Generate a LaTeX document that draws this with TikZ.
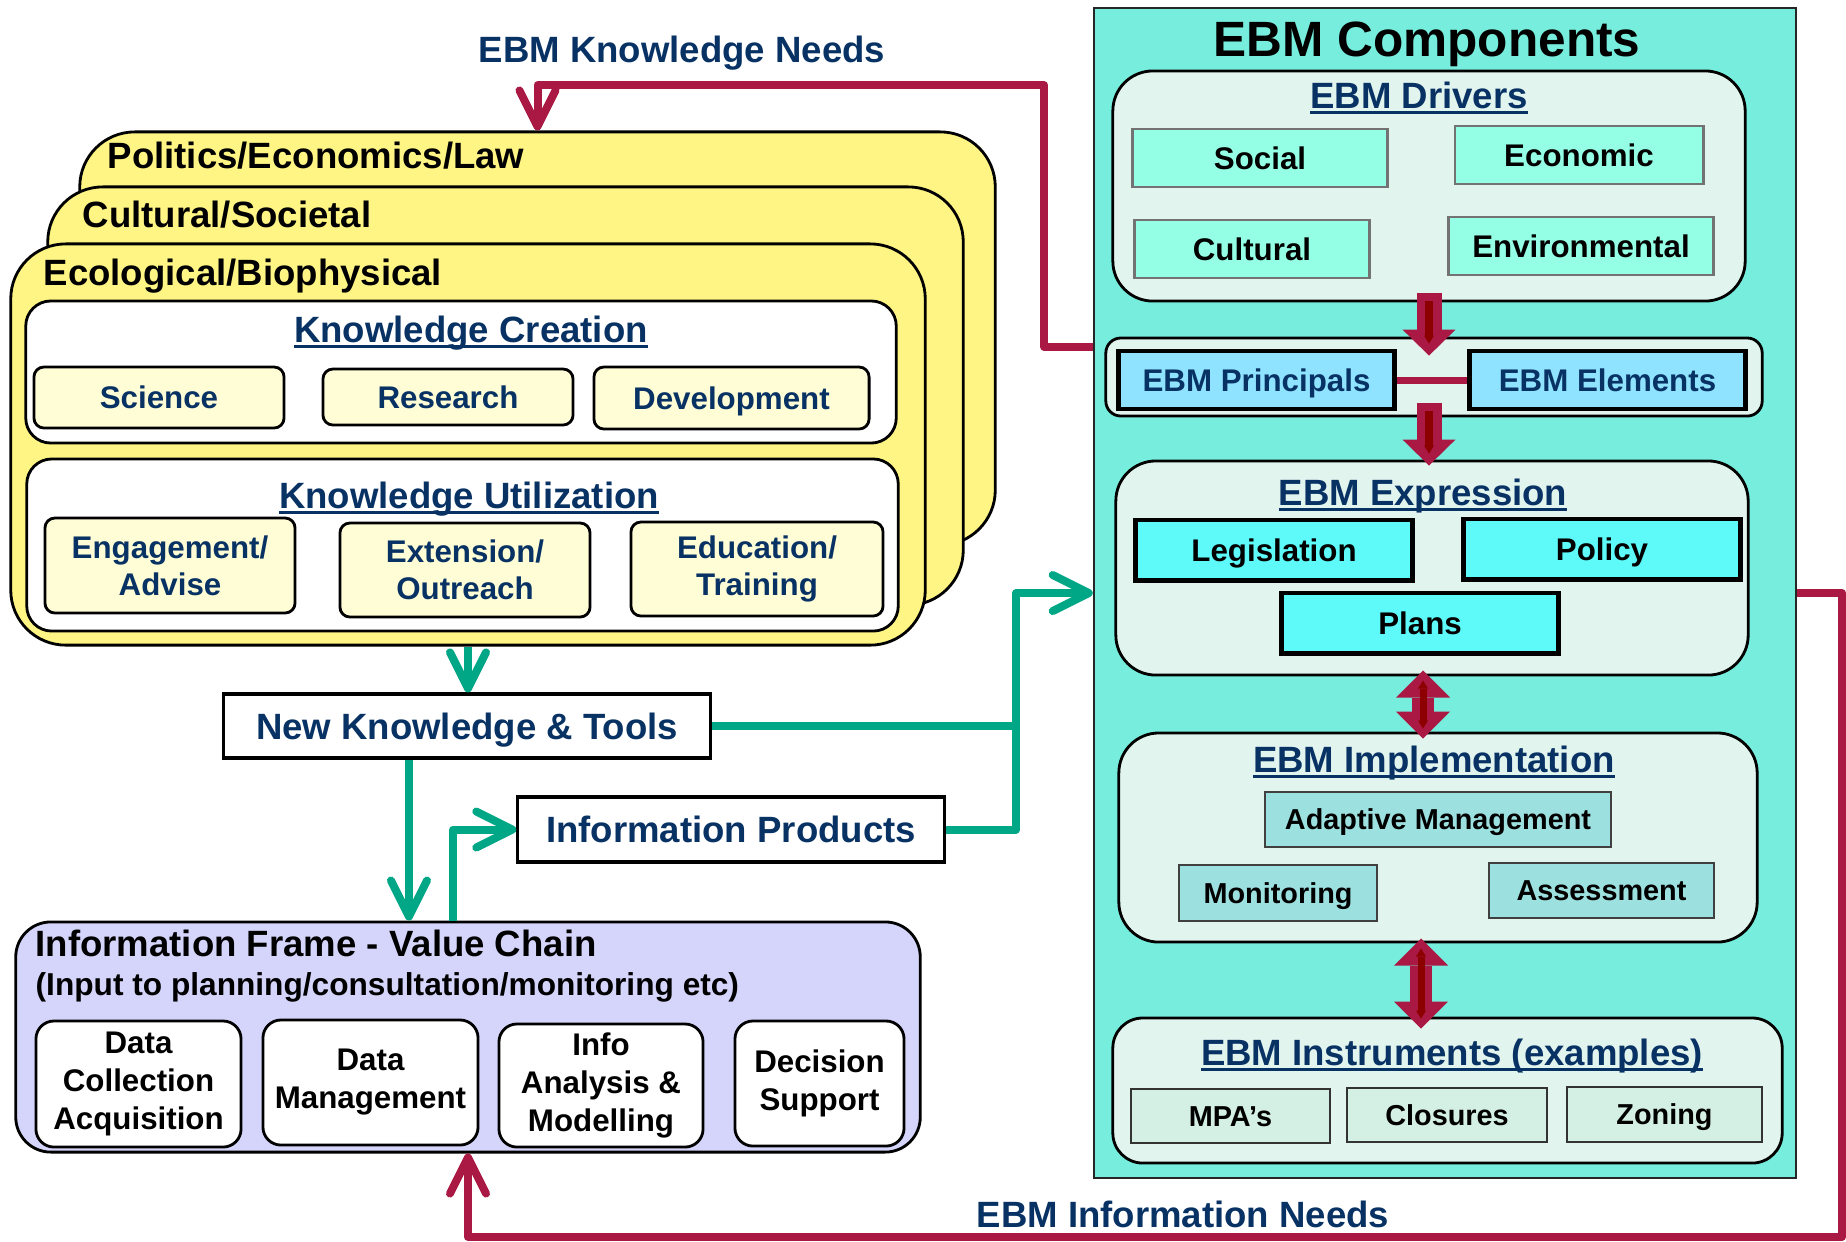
\documentclass[tikz,border=0pt]{standalone}
\usepackage{fontspec}
\setmainfont{Liberation Sans}
\usepackage{tikz}
\usetikzlibrary{arrows.meta,positioning}
\usepackage{xcolor}

\definecolor{ebmteal}{RGB}{119,237,221}
\definecolor{panelfill}{RGB}{226,244,238}
\definecolor{drvfill}{RGB}{148,255,229}
\definecolor{prinfill}{RGB}{143,227,255}
\definecolor{exprfill}{RGB}{94,250,250}
\definecolor{implfill}{RGB}{157,224,224}
\definecolor{instfill}{RGB}{212,240,228}
\definecolor{cardyellow}{RGB}{255,245,133}
\definecolor{kboxfill}{RGB}{255,253,214}
\definecolor{framefill}{RGB}{213,213,251}
\definecolor{navy}{RGB}{8,50,100}
\definecolor{crim}{RGB}{170,24,68}
\definecolor{crimcore}{RGB}{140,0,0}
\definecolor{flowgreen}{RGB}{0,167,134}

\newsavebox\ulbx
\newcommand{\ulttl}[1]{\sbox\ulbx{#1}\rlap{\rule[-1.7pt]{\wd\ulbx}{0.95pt}}\usebox\ulbx}

\tikzset{
  bigtxt/.style={font=\fontsize{14.1}{16}\selectfont\bfseries},
  ttltxt/.style={font=\fontsize{10.4}{12.5}\selectfont\bfseries},
  boxtxt/.style={font=\fontsize{8.9}{10.5}\selectfont\bfseries},
  smalltxt/.style={font=\fontsize{8.2}{10}\selectfont\bfseries},
  oneline/.style={text height=6.4pt, text depth=0pt},
  ebmbox/.style={draw=black!85, line width=0.6pt, fill=ebmteal},
  panel/.style={draw, line width=0.8pt, fill=panelfill, rounded corners=0.4cm},
  drvbox/.style={boxtxt, oneline, draw=black!55, line width=0.8pt, fill=drvfill, inner sep=0pt},
  prinbox/.style={boxtxt, oneline, text=navy, draw, line width=1.4pt, fill=prinfill, inner sep=0pt},
  exprbox/.style={boxtxt, oneline, draw, line width=1.4pt, fill=exprfill, inner sep=0pt},
  implbox/.style={smalltxt, text height=5.9pt, text depth=0pt, draw=black!75, line width=0.7pt, fill=implfill, inner sep=0pt},
  instbox/.style={smalltxt, text height=5.9pt, text depth=0pt, draw=black!80, line width=0.7pt, fill=instfill, inner sep=0pt},
  card/.style={draw, line width=0.8pt, fill=cardyellow, rounded corners=0.55cm},
  cardlbl/.style={ttltxt, inner sep=0pt, anchor=base west},
  sublbl/.style={font=\fontsize{9}{11}\selectfont\bfseries, inner sep=0pt, anchor=base west},
  kpanel/.style={draw, line width=0.8pt, fill=white, rounded corners=0.25cm},
  kbox/.style={boxtxt, text=navy, draw, line width=0.8pt, fill=kboxfill, rounded corners=0.1cm, inner sep=0pt, align=center},
  ttl/.style={ttltxt, text=navy, inner sep=0pt, anchor=base},
  outbox/.style={ttltxt, text height=7.45pt, text depth=0pt, text=navy, draw, line width=0.9pt, fill=white, inner sep=0pt},
  framebox/.style={draw, line width=0.8pt, fill=framefill, rounded corners=0.35cm},
  databox/.style={font=\fontsize{8.9}{10.8}\selectfont\bfseries, draw, line width=0.8pt, fill=white, rounded corners=0.18cm, inner sep=0pt, align=center},
  needline/.style={crim, line width=0.08cm, line join=round, -{Straight Barb[length=0.36cm, width=0.36cm, round]}},
  flowline/.style={flowgreen, line width=0.08cm, line join=round, -{Straight Barb[length=0.36cm, width=0.36cm, round]}},
  blockarr/.style={crim, line width=0.25cm, -{Triangle[length=0.26cm, width=0.53cm, line width=0pt]},
    postaction={draw=crimcore, line width=0.08cm, shorten <=0.08cm, shorten >=0.12cm, -{Triangle[length=0.08cm, width=0.1cm, line width=0pt]}}},
  dblarr/.style={crim, line width=0.22cm, {Triangle[length=0.27cm, width=0.54cm, line width=0pt]}-{Triangle[length=0.27cm, width=0.54cm, line width=0pt]},
    postaction={draw=crimcore, line width=0.07cm, shorten <=0.1cm, shorten >=0.1cm, {Triangle[length=0.08cm, width=0.1cm, line width=0pt]}-{Triangle[length=0.08cm, width=0.1cm, line width=0pt]}}},
}

\begin{document}
\begin{tikzpicture}[x=0.01cm, y=-0.01cm]
\useasboundingbox (0,0) rectangle (1846,1241);

% EBM side
\node[ebmbox, minimum width=7.02cm, minimum height=11.70cm] (ebm) at (1445,593) {};
\node[bigtxt, anchor=base] (ebmttl) at (1427,56) {EBM Components};

\node[panel, minimum width=6.32cm, minimum height=2.30cm] (drivers) at (1429,186) {};
\node[ttl] (drvttl) at (1419,108) {\ulttl{EBM Drivers}};
\node[drvbox, minimum width=2.55cm, minimum height=0.58cm] (social) at (1260,158) {Social};
\node[drvbox, minimum width=2.48cm, minimum height=0.58cm] (economic) at (1579,155) {Economic};
\node[drvbox, minimum width=2.35cm, minimum height=0.58cm] (cultural) at (1252,249) {Cultural};
\node[drvbox, minimum width=2.65cm, minimum height=0.58cm] (environ) at (1581,246) {Environmental};

\node[panel, rounded corners=0.15cm, minimum width=6.56cm, minimum height=0.78cm] (princpanel) at (1434,377) {};
\node[prinbox, minimum width=2.75cm, minimum height=0.58cm] (principals) at (1256.5,380) {EBM Principals};
\node[prinbox, minimum width=2.75cm, minimum height=0.58cm] (elements) at (1607.5,380) {EBM Elements};
\draw[crim, line width=0.07cm] (principals) -- (elements);

\node[panel, minimum width=6.32cm, minimum height=2.14cm] (expression) at (1432,568) {};
\node[ttl] (exprttl) at (1423,505) {\ulttl{EBM Expression}};
\node[exprbox, minimum width=2.76cm, minimum height=0.60cm] (legis) at (1274,550) {Legislation};
\node[exprbox, minimum width=2.76cm, minimum height=0.60cm] (policy) at (1602,549) {Policy};
\node[exprbox, minimum width=2.76cm, minimum height=0.60cm] (plans) at (1420,623) {Plans};

\node[panel, minimum width=6.38cm, minimum height=2.09cm] (implement) at (1438,837.5) {};
\node[ttl] (implttl) at (1434,772) {\ulttl{EBM Implementation}};
\node[implbox, minimum width=3.46cm, minimum height=0.55cm] (adaptive) at (1438,819.5) {Adaptive Management};
\node[implbox, minimum width=1.98cm, minimum height=0.56cm] (monitor) at (1278,893) {Monitoring};
\node[implbox, minimum width=2.25cm, minimum height=0.55cm] (assess) at (1601.5,890.5) {Assessment};

\node[panel, rounded corners=0.3cm, minimum width=6.69cm, minimum height=1.45cm] (instruments) at (1447.5,1090.5) {};
\node[ttl] (instttl) at (1452,1065) {\ulttl{EBM Instruments (examples)}};
\node[instbox, minimum width=1.99cm, minimum height=0.54cm] (mpas) at (1230.5,1116) {MPA’s};
\node[instbox, minimum width=2.00cm, minimum height=0.54cm] (closures) at (1447,1115) {Closures};
\node[instbox, minimum width=1.95cm, minimum height=0.55cm] (zoning) at (1664.5,1114.5) {Zoning};

\draw[blockarr] ([yshift=0.09cm]drivers.south) -- ([yshift=-0.19cm]drivers.south |- princpanel.north);
\draw[blockarr] ([xshift=-0.05cm, yshift=0.14cm]princpanel.south) -- ([xshift=-0.05cm, yshift=-0.06cm]princpanel.south |- expression.north);
\draw[dblarr] ([xshift=-0.09cm, yshift=0.06cm]expression.south) -- ([xshift=-0.09cm, yshift=-0.07cm]expression.south |- implement.north);
\draw[dblarr] ([xshift=-0.17cm, yshift=0.05cm]implement.south) -- ([xshift=-0.17cm, yshift=-0.12cm]implement.south |- instruments.north);

% knowledge side
\node[card, minimum width=9.15cm, minimum height=4.13cm] (polcard) at (537.5,338.5) {};
\node[cardlbl] (pollbl) at (107,168) {Politics/Economics/Law};
\node[card, minimum width=9.15cm, minimum height=4.18cm] (culcard) at (505.5,396) {};
\node[cardlbl] (cullbl) at (82,227) {Cultural/Societal};
\node[card, minimum width=9.14cm, minimum height=4.01cm] (ecocard) at (468,444.5) {};
\node[cardlbl] (ecolbl) at (43,285) {Ecological/Biophysical};

\node[kpanel, minimum width=8.70cm, minimum height=1.42cm] (kcpanel) at (461,372) {};
\node[ttl] (kcttl) at (471,342) {\ulttl{Knowledge Creation}};
\node[kbox, oneline, minimum width=2.50cm, minimum height=0.61cm] (science) at (159,397.5) {Science};
\node[kbox, oneline, minimum width=2.50cm, minimum height=0.56cm] (research) at (448,397) {Research};
\node[kbox, oneline, minimum width=2.75cm, minimum height=0.62cm] (develop) at (731.5,398) {Development};

\node[kpanel, minimum width=8.71cm, minimum height=1.72cm] (kupanel) at (462.5,545) {};
\node[ttl] (kuttl) at (469,508) {\ulttl{Knowledge Utilization}};
\node[kbox, minimum width=2.50cm, minimum height=0.95cm] (engage) at (170,565.5) {Engagement/\\Advise};
\node[kbox, minimum width=2.50cm, minimum height=0.94cm] (extension) at (465,570) {Extension/\\Outreach};
\node[kbox, minimum width=2.52cm, minimum height=0.94cm] (education) at (757,569) {Education/\\Training};

\node[outbox, minimum width=4.86cm, minimum height=0.64cm] (newknow) at (467,726) {New Knowledge \& Tools};
\node[outbox, minimum width=4.26cm, minimum height=0.65cm] (infoprod) at (731,829.5) {Information Products};

\node[framebox, minimum width=9.04cm, minimum height=2.30cm] (infoframe) at (468,1037) {};
\node[cardlbl] (frttl) at (35,956) {Information Frame - Value Chain};
\node[sublbl] (frsub) at (35,995) {(Input to planning/consultation/monitoring etc)};
\node[databox, minimum width=2.05cm, minimum height=1.26cm] (collect) at (138.5,1084) {Data\\Collection\\Acquisition};
\node[databox, minimum width=2.15cm, minimum height=1.25cm] (manage) at (370.5,1082.5) {Data\\Management};
\node[databox, minimum width=2.04cm, minimum height=1.23cm] (analysis) at (601,1085.5) {Info\\Analysis \&\\Modelling};
\node[databox, minimum width=1.69cm, minimum height=1.25cm] (decision) at (819.5,1083.5) {Decision\\Support};

% green flows
\coordinate (greenbend) at (1016,593);
\draw[flowline] (ecocard.south) -- (ecocard.south |- newknow.north);
\draw[flowline] ([xshift=-0.58cm]newknow.south) -- ([xshift=-0.58cm]newknow.south |- infoframe.north);
\draw[flowline] ([xshift=-0.15cm]infoframe.north) |- (infoprod.west);
\draw[flowline] (infoprod.east) -| (greenbend) -- (ebm.west);
\draw[flowgreen, line width=0.08cm] (newknow.east) -- (newknow.east -| greenbend);

% red needs
\coordinate (knbend) at (1044,85);
\coordinate (inbend) at (1842,1237);
\draw[needline] ([yshift=-0.10cm]ebm.west |- princpanel.north) -| (knbend) -| (polcard.north);
\node[ttl] (knlbl) at (682,62) {EBM Knowledge Needs};
\draw[needline] (ebm.east) -| (inbend) -| (infoframe.south);
\node[ttl] (inlbl) at (1183,1227) {EBM Information Needs};
\end{tikzpicture}
\end{document}
